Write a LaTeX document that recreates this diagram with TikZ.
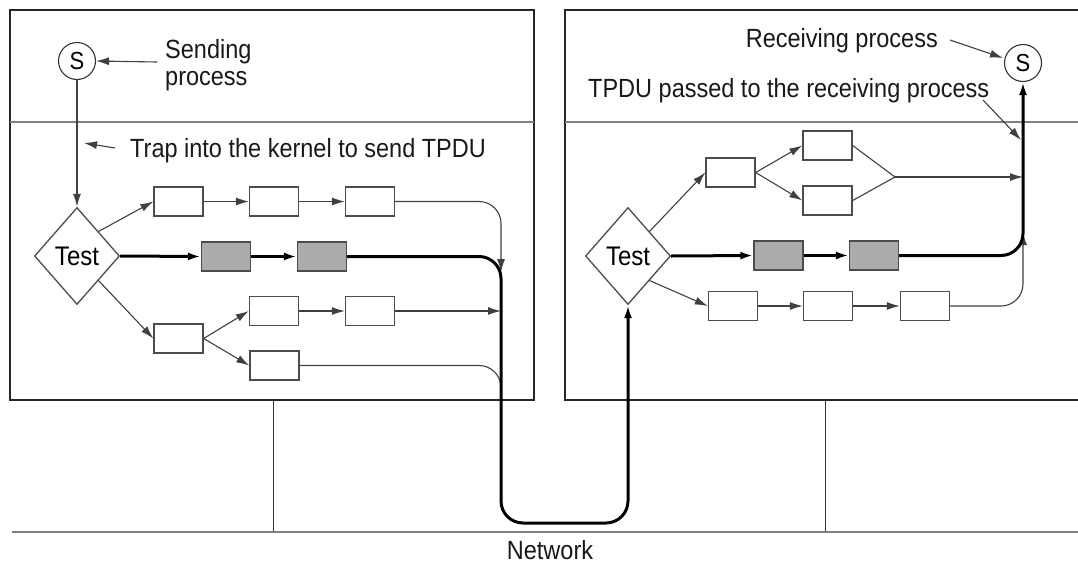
\documentclass[tikz,border=0pt]{standalone}
\usepackage{fontspec}
\usepackage{graphicx}
\setmainfont{Liberation Sans}
\usetikzlibrary{arrows.meta,shapes.geometric}
\newcommand{\talltext}[1]{\scalebox{1}[1.12]{#1}}
\begin{document}
\begin{tikzpicture}[x=1pt,y=-1pt,
  box/.style={draw=black!70, line width=1.3pt, fill=white, minimum width=49pt, minimum height=29pt, inner sep=0pt},
  gbox/.style={box, fill=black!33},
  proc/.style={circle, draw=black!80, line width=1.1pt, minimum size=37pt, inner sep=0pt, font=\fontsize{22}{24}\selectfont},
  test/.style={diamond, draw=black!70, line width=1.3pt, minimum width=85pt, minimum height=97pt, inner sep=0pt, font=\fontsize{24}{28}\selectfont},
  txt/.style={inner sep=0pt, text=black!90, font=\fontsize{23.5}{28}\selectfont},
  tip/.style={-{Latex[length=13pt,width=8pt]}},
  thinp/.style={draw=black!75, line width=1.1pt},
  thickp/.style={draw=black, line width=3pt},
  frame/.style={draw=black!85, line width=1.8pt},
  sep/.style={draw=black!50, line width=1.5pt},
  net/.style={draw=black!50, line width=2pt},
  leg/.style={draw=black!80, line width=0.9pt}
]
\useasboundingbox (0,0) rectangle (1078,565);
\fill[white] (0,0) rectangle (1078,565);

% frames
\draw[frame] (10,10) rectangle (534,400);
\draw[sep] (10,122) -- (534,122);
\draw[frame] (1078,10) -- (565,10) -- (565,400) -- (1078,400);
\draw[sep] (565,122) -- (1078,122);
\draw[leg] (273,400) -- (273,532);
\draw[leg] (825,400) -- (825,532);
\draw[net] (12,532) -- (1078,532);

% helper coordinates
\coordinate (lx) at (501,0);
\coordinate (rx) at (1023,0);
\coordinate (ubot) at (0,523);
\coordinate (ltip) at (501,272);
\coordinate (lend) at (501,400);
\coordinate (rm) at (895,177);
\coordinate (rtip) at (1023,232);
\coordinate (sa) at (157,62);
\coordinate (ta1) at (115,148);
\coordinate (ta2) at (84,143);
\coordinate (ra1) at (950,40);
\coordinate (ra2) at (1003,58);
\coordinate (pa1) at (983,100);
\coordinate (pa2) at (1021,140);

% left host
\node[proc] (ls) at (77,61) {\talltext{S}};
\node[test] (ld) at (77,256) {\talltext{Test}};
\node[box] (l1) at (178.5,201.5) {};
\node[box] (l2) at (274,201.5) {};
\node[box] (l3) at (370,201.5) {};
\node[gbox] (lg1) at (226,256.5) {};
\node[gbox] (lg2) at (322,256.5) {};
\node[box] (l4) at (178.5,338.5) {};
\node[box] (l5) at (274,311) {};
\node[box] (l6) at (370,311) {};
\node[box] (l7) at (274.5,365.5) {};

% right host
\node[proc] (rs) at (1023,63) {\talltext{S}};
\node[test] (rd) at (628,256) {\talltext{Test}};
\node[box] (ra) at (730.5,172.5) {};
\node[box] (rb) at (827.5,145.5) {};
\node[box] (rc) at (827.5,200.5) {};
\node[gbox] (rg1) at (778.5,255.5) {};
\node[gbox] (rg2) at (874,255.5) {};
\node[box] (r1) at (733,306) {};
\node[box] (r2) at (828,306) {};
\node[box] (r3) at (925,306) {};

% texts
\node[txt, anchor=base west] (snd1) at (165,58) {\talltext{Sending}};
\node[txt, anchor=base west] (snd2) at (165,85) {\talltext{process}};
\node[txt, anchor=base west] (trap) at (130,157) {\talltext{Trap into the kernel to send TPDU}};
\node[txt, anchor=base east] (recv) at (938,47) {\talltext{Receiving process}};
\node[txt, anchor=base west] (pass) at (588,97) {\talltext{TPDU passed to the receiving process}};
\node[txt, anchor=base] (net) at (550,559) {\talltext{Network}};

% annotation arrows
\draw[thinp, tip] (sa) -- (ls.east);
\draw[thinp, tip] (ta1) -- (ta2);
\draw[thinp, tip] (ra1) -- (ra2);
\draw[thinp, tip] (pa1) -- (pa2);

% left connectors
\draw[thinp, line width=1.6pt, tip] (ls.south) -- (ld.north);
\draw[thinp, tip] (ld.north east) -- (l1.west);
\draw[thinp, tip] (l1.east) -- (l2.west);
\draw[thinp, tip] (l2.east) -- (l3.west);
\draw[thinp, tip] (ld.south east) -- (l4.west);
\draw[thinp, tip] (l4.east) -- (l5.west);
\draw[thinp, tip] (l4.east) -- (l7.west);
\draw[thinp, tip] (l5.east) -- (l6.west);
\draw[thinp, tip] (l6.east) -- (l6.east -| lx);
\draw[thinp, rounded corners=22pt, tip] (l3.east) -- (l3.east -| lx) -- (ltip);
\draw[thinp, rounded corners=22pt] (l7.east) -- (l7.east -| lx) -- (lend);
\draw[thickp, tip] (ld.east) -- (lg1.west);
\draw[thickp, tip] (lg1.east) -- (lg2.west);
\draw[thickp, rounded corners=22pt, tip] (lg2.east) -- (lg2.east -| lx) -- (lx |- ubot) -- (rd.south |- ubot) -- (rd.south);

% right connectors
\draw[thinp, tip] (rd.north east) -- (ra.west);
\draw[thinp, tip] (ra.east) -- (rb.west);
\draw[thinp, tip] (ra.east) -- (rc.west);
\draw[thinp] (rb.east) -- (rm) -- (rc.east);
\draw[thinp, tip] (rm) -- (rm -| rx);
\draw[thinp, tip] (rd.south east) -- (r1.west);
\draw[thinp, tip] (r1.east) -- (r2.west);
\draw[thinp, tip] (r2.east) -- (r3.west);
\draw[thinp, rounded corners=22pt, tip] (r3.east) -- (r3.east -| rx) -- (rtip);
\draw[thickp, tip] (rd.east) -- (rg1.west);
\draw[thickp, tip] (rg1.east) -- (rg2.west);
\draw[thickp, rounded corners=22pt, tip] (rg2.east) -- (rg2.east -| rx) -- (rs.south);
\end{tikzpicture}
\end{document}
